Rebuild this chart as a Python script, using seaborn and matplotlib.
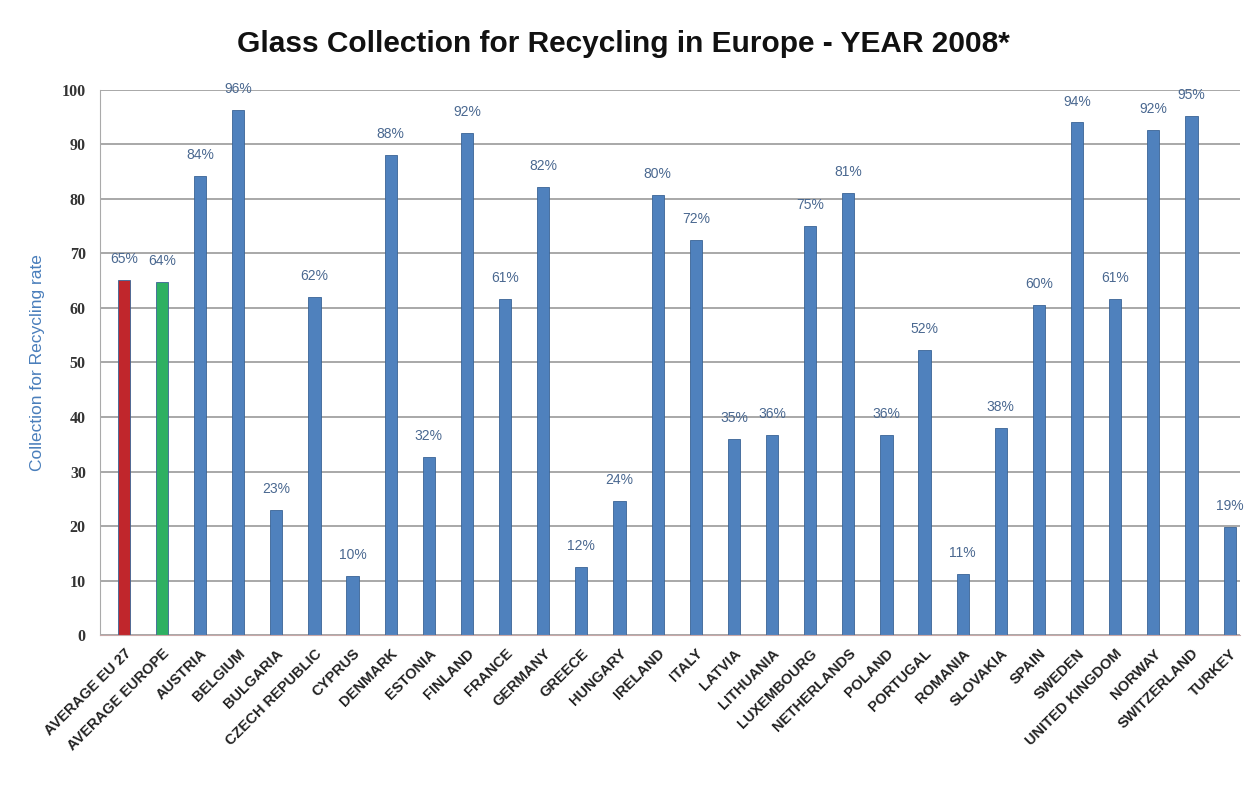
import pandas as pd
import matplotlib
matplotlib.use('Agg')
from matplotlib import pyplot as plt
import seaborn as sns

# 数据
countries = ['AVERAGE EU 27', 'AVERAGE EUROPE', 'AUSTRIA', 'BELGIUM', 'BULGARIA',
             'CZECH REPUBLIC', 'CYPRUS', 'DENMARK', 'ESTONIA', 'FINLAND', 'FRANCE',
             'GERMANY', 'GREECE', 'HUNGARY', 'IRELAND', 'ITALY', 'LATVIA', 'LITHUANIA',
             'LUXEMBOURG', 'NETHERLANDS', 'POLAND', 'PORTUGAL', 'ROMANIA', 'SLOVAKIA',
             'SPAIN', 'SWEDEN', 'UNITED KINGDOM', 'NORWAY', 'SWITZERLAND', 'TURKEY']
rates = [65.1, 64.8, 84.2, 96.3, 22.9, 62.0, 10.8, 88.0, 32.7, 92.0, 61.7,
         82.2, 12.5, 24.6, 80.7, 72.5, 36.0, 36.7, 75.0, 81.1, 36.7, 52.3,
         11.2, 38.0, 60.5, 94.0, 61.7, 92.7, 95.2, 19.8]
rate_labels = [65, 64, 84, 96, 23, 62, 10, 88, 32, 92, 61, 82, 12, 24, 80, 72,
               35, 36, 75, 81, 36, 52, 11, 38, 60, 94, 61, 92, 95, 19]
yticks = [0, 10, 20, 30, 40, 50, 60, 70, 80, 90, 100]

df = pd.DataFrame({'country': countries, 'rate': rates})

# 颜色
colors = ['#c0262c', '#2eb062'] + ['#4f81bd'] * (len(countries) - 2)

sns.set_style('white')
plt.rcParams['font.family'] = ['DejaVu Sans']

fig = plt.figure(figsize=(12.47, 7.94), dpi=100)
ax = fig.add_axes([0.080, 0.200, 0.914, 0.687])

sns.barplot(data=df, x='country', y='rate', hue='country', palette=colors,
            legend=False, width=0.32, saturation=1, edgecolor='#3a6496',
            linewidth=0.6, ax=ax)

# 数据标签
for i, (v, lab) in enumerate(zip(rates, rate_labels)):
    ax.annotate(f'{lab}%', (i, v), xytext=(0, 10), textcoords='offset points',
                ha='center', va='bottom', fontsize=10, color='#4a6890',
                family='Liberation Sans')

ax.set_ylim(0, 100)
ax.set_xlim(-0.63, len(countries) - 0.74)
ax.set_yticks(yticks)
ax.set_yticklabels([str(t) for t in yticks], fontsize=11.5, fontweight='bold',
                   family='Liberation Serif', color='#333333')
ax.yaxis.grid(True, color='#9a9a9a', linewidth=1.2)
ax.set_axisbelow(True)

ax.set_xticks(range(len(countries)))
ax.set_xticklabels(countries, rotation=45, ha='right', rotation_mode='anchor',
                   fontsize=10.5, fontweight='bold', family='Liberation Sans',
                   color='#222222')
ax.tick_params(axis='x', length=4, color='#aaaaaa', pad=4)
ax.tick_params(axis='y', length=4, color='#aaaaaa', pad=6)

for s in ['top', 'right']:
    ax.spines[s].set_visible(False)
ax.spines['left'].set_color('#aaaaaa')
ax.spines['bottom'].set_color('#c8a8a8')

ax.set_xlabel('')
ax.set_ylabel('Collection for Recycling rate', fontsize=12.5, color='#4a7ebb',
              family='Liberation Sans', labelpad=12)

fig.suptitle('Glass Collection for Recycling in Europe - YEAR 2008*', y=0.962,
             fontsize=21.5, fontweight='bold', family='Liberation Sans', color='#111111')

plt.savefig('out.png', dpi=100, facecolor='white')
